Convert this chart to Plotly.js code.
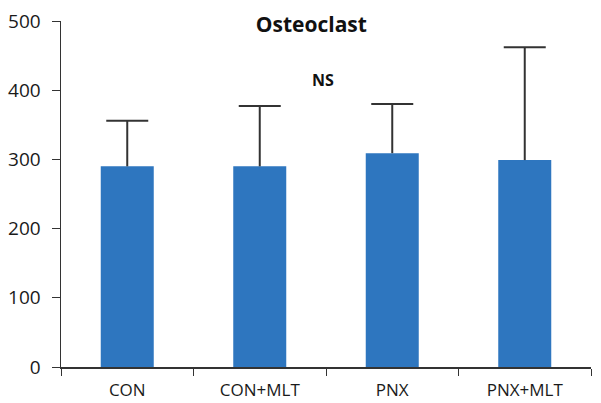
<!DOCTYPE html>
<html>
<head>
<meta charset="utf-8">
<script src="https://cdn.plot.ly/plotly-3.0.1.min.js"></script>
<style>html,body{margin:0;padding:0;background:#fff;}#chart{width:601px;height:403px;}</style>
</head>
<body>
<div id="chart"></div>
<script>
var categories = ["CON", "CON+MLT", "PNX", "PNX+MLT"];
var means = [290, 290, 309, 299];
var errorsPlus = [66, 87, 71, 163];
var yTicks = [0, 100, 200, 300, 400, 500];
var chartTitle = "Osteoclast";
var noteText = "NS";

var errTops = means.map(function (m, i) { return m + errorsPlus[i]; });

var barTrace = {
  type: "bar",
  x: categories,
  y: means,
  width: 0.4,
  marker: {color: "#2e76bf"},
  error_y: {type: "data", symmetric: false, array: errorsPlus, arrayminus: [0,0,0,0], color: "#333333", thickness: 2, width: 0},
  hoverinfo: "none"
};

var capTrace = {
  type: "scatter",
  mode: "markers",
  x: categories,
  y: errTops,
  marker: {symbol: "line-ew", size: 30, line: {color: "#333333", width: 2}},
  hoverinfo: "none"
};

var layout = {
  width: 601, height: 403,
  margin: {l: 61, r: 10, t: 21, b: 36},
  paper_bgcolor: "#ffffff", plot_bgcolor: "#ffffff",
  showlegend: false,
  font: {family: "Open Sans, sans-serif", color: "#1a1a1a", size: 16},
  title: {text: "<b>" + chartTitle + "</b>", x: 0.518, xanchor: "center", y: 0.94, yanchor: "middle", yref: "container", font: {size: 21, color: "#111"}},
  xaxis: {
    type: "category",
    showline: true, linecolor: "#333", linewidth: 1.5,
    ticks: "outside", tickson: "boundaries", ticklen: 7, tickcolor: "#333",
    ticklabelstandoff: 7,
    tickfont: {size: 17, color: "#1a1a1a"},
    showgrid: false, zeroline: false, fixedrange: true
  },
  yaxis: {
    range: [0, 500],
    tickvals: yTicks,
    showline: true, linecolor: "#333", linewidth: 1.5,
    ticks: "outside", ticklen: 8, tickcolor: "#333",
    ticklabelstandoff: 7,
    tickfont: {size: 19, color: "#1a1a1a"},
    showgrid: false, zeroline: false, fixedrange: true
  },
  annotations: [{
    text: "<b>" + noteText + "</b>", xref: "paper", yref: "y",
    x: 0.494, y: 415, showarrow: false,
    font: {size: 16, color: "#111"}
  }]
};

Plotly.newPlot("chart", [barTrace, capTrace], layout, {displayModeBar: false, staticPlot: true});
</script>
</body>
</html>
